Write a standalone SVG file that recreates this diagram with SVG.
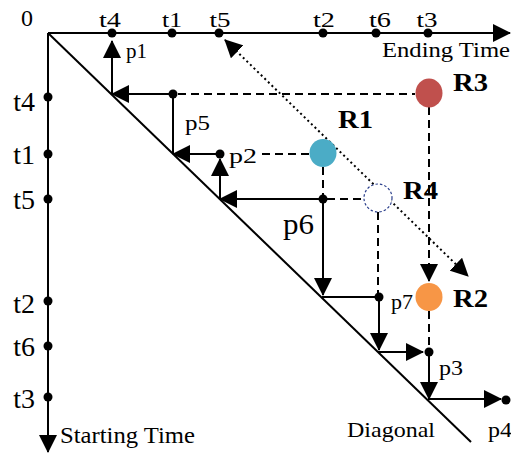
<svg xmlns="http://www.w3.org/2000/svg" width="511" height="455" viewBox="0 0 511 455">
  <style>
    .ln { stroke: #000; stroke-width: 2; fill: none; }
    .dash { stroke: #000; stroke-width: 2; fill: none; stroke-dasharray: 8 5; }
    .dot { stroke: #000; stroke-width: 2; fill: none; stroke-dasharray: 2 3; }
    .pt { fill: #000; }
    text { font-family: "Liberation Serif", "Times New Roman", serif; fill: #000; }
    .ax { font-size: 22px; }
    .tv { font-size: 28px; }
    .lbl { font-size: 22px; }
    .rl { font-size: 25px; font-weight: bold; }
  </style>
  <defs>
    <marker id="arr" markerUnits="userSpaceOnUse" viewBox="0 0 18 18" markerWidth="18" markerHeight="18" refX="17" refY="9" orient="auto-start-reverse">
      <path d="M0,0 L18,9 L0,18 z" fill="#000" stroke="none"/>
    </marker>
  </defs>

  <rect width="511" height="455" fill="#fff"/>

  <!-- axes and diagonal -->
  <g id="axes">
    <line class="ln" x1="48" y1="33" x2="510" y2="33" marker-end="url(#arr)"/>
    <line class="ln" x1="48" y1="33" x2="48" y2="452" marker-end="url(#arr)"/>
    <line class="ln" x1="48" y1="33" x2="471" y2="442"/>
    <text x="27" y="26" text-anchor="middle" style="font-size:24px">0</text>
    <text class="ax" x="382" y="57" textLength="128" lengthAdjust="spacingAndGlyphs">Ending Time</text>
    <text x="60" y="443" style="font-size:24px" textLength="135" lengthAdjust="spacingAndGlyphs">Starting Time</text>
    <text class="ax" x="347" y="437" textLength="88" lengthAdjust="spacingAndGlyphs">Diagonal</text>
  </g>

  <!-- ending time ticks -->
  <g id="ticks-end">
    <circle class="pt" cx="112" cy="33" r="4.5"/>
    <circle class="pt" cx="172" cy="33" r="4.5"/>
    <circle class="pt" cx="219" cy="33" r="4.5"/>
    <circle class="pt" cx="323" cy="33" r="4.5"/>
    <circle class="pt" cx="376" cy="33" r="4.5"/>
    <circle class="pt" cx="428" cy="33" r="4.5"/>
    <text class="ax" x="110" y="27" text-anchor="middle" textLength="22" lengthAdjust="spacingAndGlyphs">t4</text>
    <text class="ax" x="172" y="27" text-anchor="middle" textLength="20" lengthAdjust="spacingAndGlyphs">t1</text>
    <text class="ax" x="220" y="27" text-anchor="middle" textLength="21" lengthAdjust="spacingAndGlyphs">t5</text>
    <text class="ax" x="324" y="27" text-anchor="middle" textLength="22" lengthAdjust="spacingAndGlyphs">t2</text>
    <text class="ax" x="380" y="27" text-anchor="middle" textLength="22" lengthAdjust="spacingAndGlyphs">t6</text>
    <text class="ax" x="427" y="27" text-anchor="middle" textLength="21" lengthAdjust="spacingAndGlyphs">t3</text>
  </g>

  <!-- starting time ticks -->
  <g id="ticks-start">
    <circle class="pt" cx="48" cy="97" r="4.5"/>
    <circle class="pt" cx="48" cy="154" r="4.5"/>
    <circle class="pt" cx="48" cy="199" r="4.5"/>
    <circle class="pt" cx="48" cy="301" r="4.5"/>
    <circle class="pt" cx="48" cy="346" r="4.5"/>
    <circle class="pt" cx="48" cy="397" r="4.5"/>
    <text class="tv" x="35" y="111" text-anchor="end">t4</text>
    <text class="tv" x="35" y="164" text-anchor="end">t1</text>
    <text class="tv" x="35" y="209" text-anchor="end">t5</text>
    <text class="tv" x="35" y="313" text-anchor="end">t2</text>
    <text class="tv" x="35" y="356" text-anchor="end">t6</text>
    <text class="tv" x="35" y="408" text-anchor="end">t3</text>
  </g>

  <!-- connectors: projections and paths -->
  <g id="connectors">
    <line class="dot" x1="225" y1="40" x2="468" y2="276" marker-start="url(#arr)" marker-end="url(#arr)"/>

    <line class="dash" x1="178" y1="94" x2="415" y2="94"/>
    <line class="dash" x1="262" y1="154" x2="309" y2="154"/>
    <line class="dash" x1="327" y1="199" x2="364" y2="199"/>
    <line class="dash" x1="323" y1="167" x2="323" y2="195"/>
    <line class="dash" x1="378" y1="212" x2="378" y2="293"/>
    <line class="dash" x1="429" y1="107" x2="429" y2="281" marker-end="url(#arr)"/>
    <line class="dash" x1="429" y1="311" x2="429" y2="348"/>

    <line class="ln" x1="173" y1="94" x2="112" y2="94" marker-end="url(#arr)"/>
    <line class="ln" x1="112" y1="94" x2="112" y2="41" marker-end="url(#arr)"/>
    <line class="ln" x1="173" y1="94" x2="173" y2="154"/>
    <line class="ln" x1="220" y1="154" x2="173" y2="154" marker-end="url(#arr)"/>
    <line class="ln" x1="220" y1="198" x2="220" y2="159" marker-end="url(#arr)"/>
    <line class="ln" x1="323" y1="199" x2="220" y2="199" marker-end="url(#arr)"/>
    <line class="ln" x1="323" y1="199" x2="323" y2="295" marker-end="url(#arr)"/>
    <line class="ln" x1="322" y1="297" x2="379" y2="297"/>
    <line class="ln" x1="379" y1="297" x2="379" y2="350" marker-end="url(#arr)"/>
    <line class="ln" x1="378" y1="352" x2="423" y2="352" marker-end="url(#arr)"/>
    <line class="ln" x1="429" y1="352" x2="429" y2="399" marker-end="url(#arr)"/>
    <line class="ln" x1="428" y1="399" x2="501" y2="399" marker-end="url(#arr)"/>
  </g>

  <!-- path points -->
  <g id="p1"><text class="lbl" x="126" y="58" style="font-size:20px" textLength="21" lengthAdjust="spacingAndGlyphs">p1</text></g>
  <g id="p5">
    <circle class="pt" cx="173" cy="94" r="4.5"/>
    <text class="lbl" x="185" y="130" style="font-size:20px" textLength="25" lengthAdjust="spacingAndGlyphs">p5</text>
  </g>
  <g id="p2">
    <circle class="pt" cx="220" cy="154" r="4.5"/>
    <text class="lbl" x="229" y="163" style="font-size:21px" textLength="28" lengthAdjust="spacingAndGlyphs">p2</text>
  </g>
  <g id="p6">
    <circle class="pt" cx="323" cy="199" r="4.5"/>
    <text class="lbl" x="283" y="234" style="font-size:29px" textLength="31" lengthAdjust="spacingAndGlyphs">p6</text>
  </g>
  <g id="p7">
    <circle class="pt" cx="379" cy="297" r="4.5"/>
    <text class="lbl" x="391" y="309" textLength="22" lengthAdjust="spacingAndGlyphs">p7</text>
  </g>
  <g id="p3">
    <circle class="pt" cx="429" cy="352" r="4.5"/>
    <text class="lbl" x="439" y="375" textLength="24" lengthAdjust="spacingAndGlyphs">p3</text>
  </g>
  <g id="p4">
    <circle class="pt" cx="506" cy="400" r="4.5"/>
    <text class="lbl" x="488" y="437" textLength="24" lengthAdjust="spacingAndGlyphs">p4</text>
  </g>

  <!-- requests -->
  <g id="R3">
    <ellipse cx="429" cy="93" rx="13.5" ry="14.5" fill="#C0504D"/>
    <text class="rl" x="453" y="91" textLength="35" lengthAdjust="spacingAndGlyphs">R3</text>
  </g>
  <g id="R1">
    <ellipse cx="323" cy="153" rx="13.5" ry="14" fill="#4BACC6"/>
    <text class="rl" x="338" y="128" textLength="35" lengthAdjust="spacingAndGlyphs">R1</text>
  </g>
  <g id="R4">
    <circle cx="378" cy="198" r="14" fill="#fff" stroke="#2B3F8C" stroke-width="1.2" stroke-dasharray="2.5 2"/>
    <text class="rl" x="403" y="199" textLength="35" lengthAdjust="spacingAndGlyphs">R4</text>
  </g>
  <g id="R2">
    <ellipse cx="429" cy="297" rx="13.5" ry="14" fill="#F79646"/>
    <text class="rl" x="453" y="307" textLength="35" lengthAdjust="spacingAndGlyphs">R2</text>
  </g>
</svg>
